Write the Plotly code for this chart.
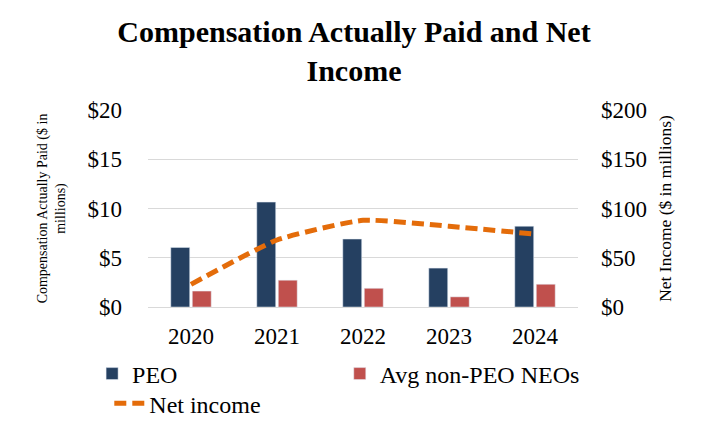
import plotly.graph_objects as go

years = ["2020", "2021", "2022", "2023", "2024"]
peo = [6.05, 10.65, 6.9, 3.95, 8.2]
avg_neo = [1.62, 2.72, 1.9, 1.03, 2.31]
net_income = [23, 68, 88, 82, 74]

left_ticks = [0, 5, 10, 15, 20]
left_labels = ["$0", "$5", "$10", "$15", "$20"]
right_ticks = [0, 50, 100, 150, 200]
right_labels = ["$0", "$50", "$100", "$150", "$200"]

FONT = "Liberation Serif, Times New Roman, serif"

fig = go.Figure()
fig.add_trace(go.Bar(x=years, y=peo, name="PEO", marker_color="#254061",
                     legend="legend"))
fig.add_trace(go.Bar(x=years, y=avg_neo, name="Avg non-PEO NEOs", marker_color="#c0504d",
                     legend="legend3"))
fig.add_trace(go.Scatter(x=years, y=net_income, name="Net income", yaxis="y2",
                         mode="lines", line=dict(color="#e46c0a", width=5, dash="12px,6px", shape="spline", smoothing=0.5),
                         legend="legend2"))

leg_common = dict(orientation="h", xanchor="left", yanchor="middle", font=dict(size=24),
                  bgcolor="rgba(0,0,0,0)", borderwidth=0)

fig.update_layout(
    width=708, height=432,
    margin=dict(l=140, r=138, t=102, b=133, autoexpand=False),
    paper_bgcolor="white", plot_bgcolor="white",
    font=dict(family=FONT, color="black"),
    title=dict(text="<b>Compensation Actually Paid and Net<br>Income</b>",
               x=0.4887, xanchor="center", y=0.922, yanchor="middle", yref="container",
               font=dict(size=30, family=FONT, color="black")),
    barmode="group", bargap=0.5, bargroupgap=0.12,
    xaxis=dict(type="category", showgrid=False, ticks="", tickfont=dict(size=23),
               showline=True, linecolor="#d9d9d9", linewidth=1, ticklabelstandoff=8),
    yaxis=dict(range=[0, 20], tickvals=left_ticks, ticktext=left_labels,
               showgrid=True, gridcolor="#d9d9d9", gridwidth=1, zeroline=False,
               tickfont=dict(size=23), ticklabelstandoff=25,
               title=dict(text="Compensation Actually Paid ($ in<br>millions)",
                          font=dict(size=14), standoff=18)),
    yaxis2=dict(range=[0, 200], tickvals=right_ticks, ticktext=right_labels,
                overlaying="y", side="right", showgrid=False, zeroline=False,
                tickfont=dict(size=23), ticklabelstandoff=22,
                title=dict(text="Net Income ($ in millions)", font=dict(size=17.5), standoff=12)),
    legend=dict(x=-0.13, y=-0.34, **leg_common),
    legend3=dict(x=0.446, y=-0.34, **leg_common),
    legend2=dict(x=-0.09, y=-0.49, **leg_common),
    showlegend=True,
)

fig.write_html("out.html")
